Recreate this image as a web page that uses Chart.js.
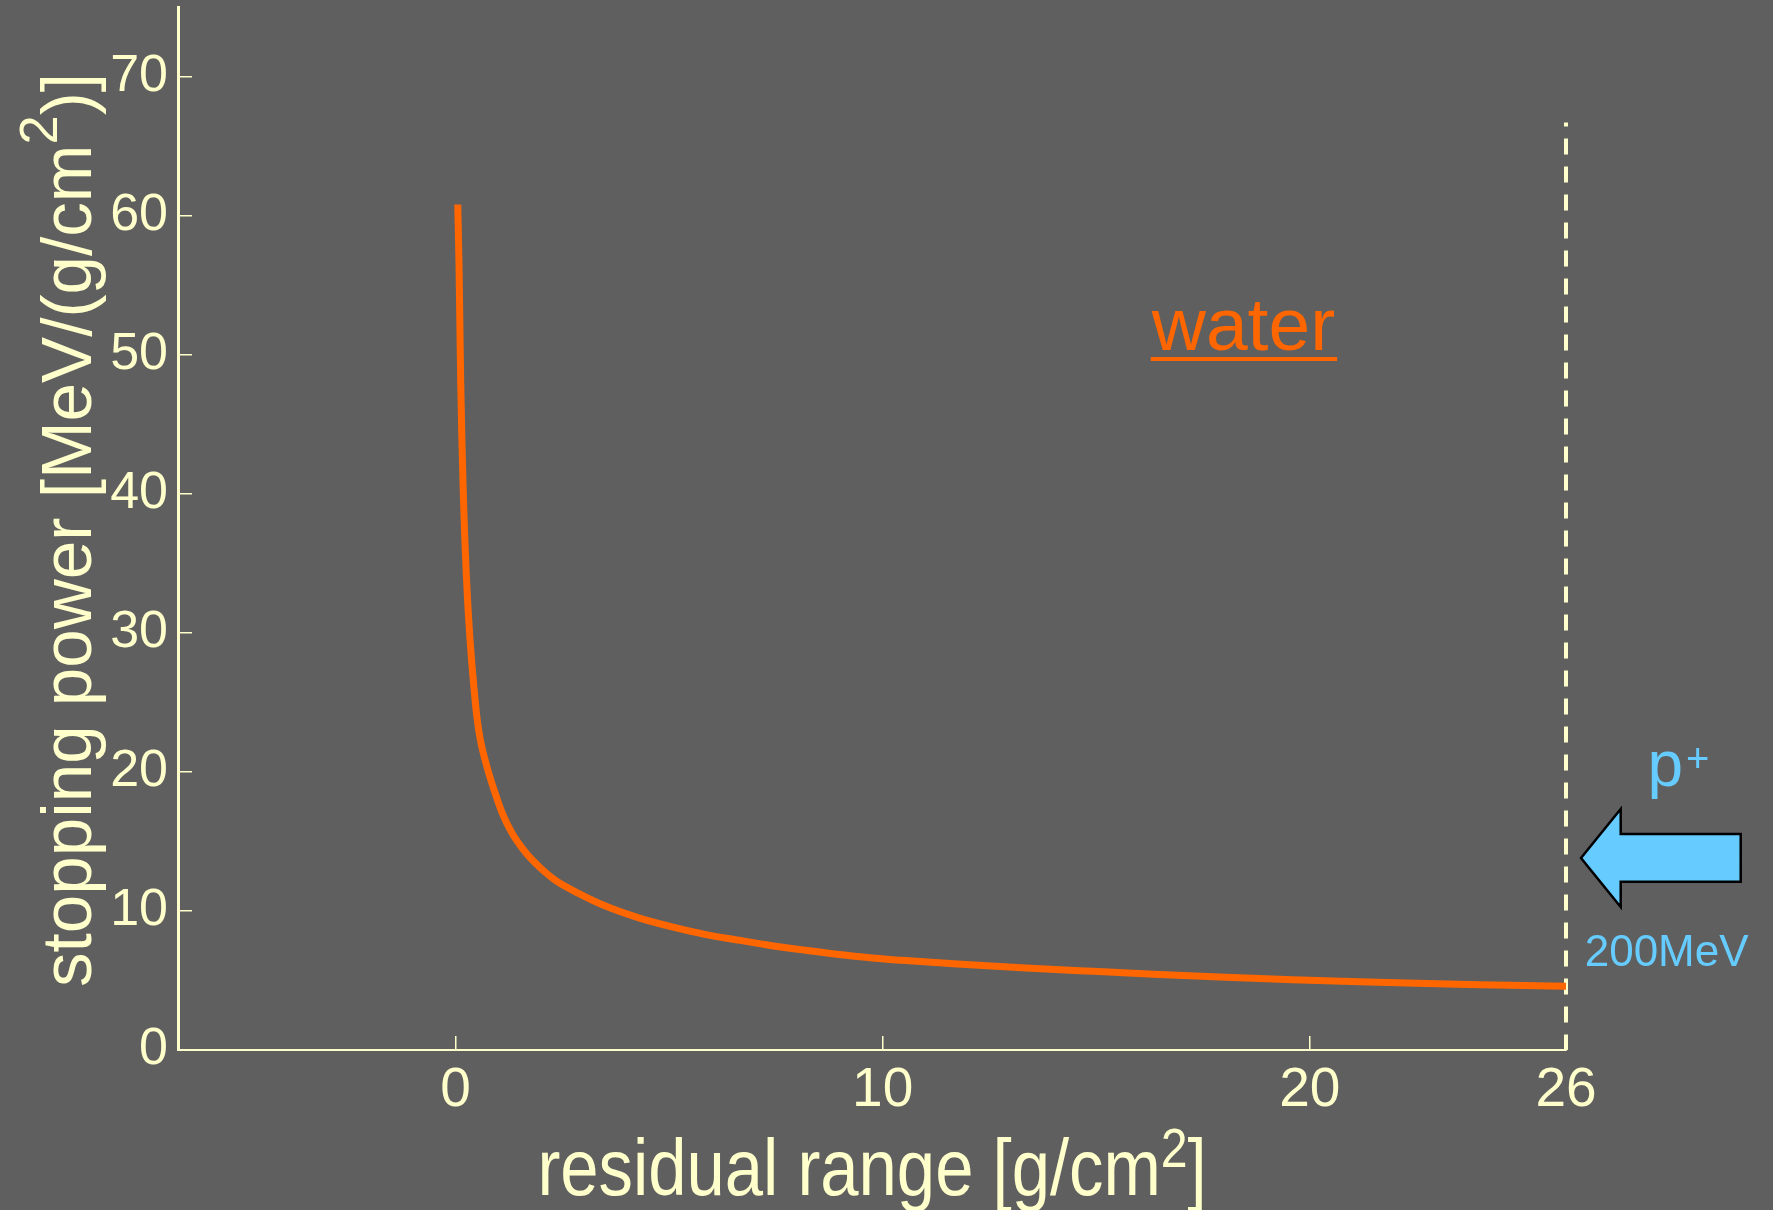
<!DOCTYPE html>
<html>
<head>
<meta charset="utf-8">
<script src="https://cdn.jsdelivr.net/npm/chart.js@4.4.1/dist/chart.umd.min.js"></script>
<style>
  html, body { margin: 0; padding: 0; background: #5f5f5f; }
  .chart-wrapper { width: 1773px; height: 1210px; }
</style>
</head>
<body>
<div class="chart-wrapper"><canvas id="chart"></canvas></div>
<script>
// proton stopping power in water against residual range
const residualRange = [
  0.05, 0.08, 0.10, 0.12, 0.145, 0.175, 0.21, 0.25, 0.29, 0.335,
  0.385, 0.44, 0.50, 0.58, 0.74, 0.9, 1.09, 1.32, 1.64, 1.95,
  2.34, 2.89, 3.51, 4.29, 5.07, 5.86, 6.63, 7.41, 8.2, 8.98,
  9.76, 10.54, 11.75, 13.35, 14.91, 16.47, 18.03, 19.6, 21.16, 22.72,
  24.0, 26.0
];
const stoppingPower = [
  60.8, 56.5, 52.2, 48.0, 44.2, 40.6, 37.2, 34.2, 31.8, 29.6,
  27.6, 25.7, 23.9, 22.3, 20.3, 18.7, 17.05, 15.6, 14.2, 13.2,
  12.2, 11.25, 10.35, 9.5, 8.85, 8.3, 7.9, 7.5, 7.17, 6.86,
  6.62, 6.43, 6.18, 5.9, 5.66, 5.43, 5.23, 5.06, 4.91, 4.78,
  4.69, 4.58
];

// dashed marker at the 200 MeV entry depth (drawn top to bottom)
const beamEdgeRange = [26, 26];
const beamEdgePower = [66.7, 0];

const xTicks = [0, 10, 20, 26];
const yTicks = [0, 10, 20, 30, 40, 50, 60, 70];

const CREAM = '#ffffcc';
const ORANGE = '#ff6600';
const SKY = '#66ccff';
const FONT = '"Liberation Sans", Arial, sans-serif';

function points(xs, ys) {
  return xs.map((x, i) => ({ x: x, y: ys[i] }));
}

// axis title with a superscript run, squeezed horizontally like the slide font
function drawTitle(ctx, parts, o) {
  ctx.save();
  ctx.translate(o.x, o.y);
  if (o.rotate) ctx.rotate(o.rotate);
  ctx.scale(o.squeeze, 1);
  ctx.fillStyle = o.color;
  ctx.textAlign = 'left';
  ctx.textBaseline = 'alphabetic';
  const fontFor = p => (p.sup ? o.supSize : o.size) + 'px ' + FONT;
  let total = 0;
  parts.forEach(p => { ctx.font = fontFor(p); total += ctx.measureText(p.t).width; });
  let x = -total / 2;
  parts.forEach(p => {
    ctx.font = fontFor(p);
    ctx.fillText(p.t, x, p.sup ? -o.supRise : 0);
    x += ctx.measureText(p.t).width;
  });
  ctx.restore();
}

const annotations = {
  id: 'annotations',
  afterDraw(chart) {
    const { ctx, chartArea, scales: { x, y } } = chart;

    drawTitle(ctx, [{ t: 'residual range [g/cm' }, { t: '2', sup: true }, { t: ']' }], {
      x: (chartArea.left + chartArea.right) / 2, y: 1195,
      size: 80, supSize: 56, supRise: 28, squeeze: 0.86, color: CREAM
    });
    drawTitle(ctx, [{ t: 'stopping power [MeV/(g/cm' }, { t: '2', sup: true }, { t: ')]' }], {
      x: 91, y: 530, rotate: -Math.PI / 2,
      size: 71, supSize: 54, supRise: 34, squeeze: 0.975, color: CREAM
    });

    // "water" label, underlined
    ctx.save();
    ctx.font = '75px ' + FONT;
    ctx.fillStyle = ORANGE;
    ctx.textBaseline = 'alphabetic';
    const wx = x.getPixelForValue(16.3);
    const wy = y.getPixelForValue(50.3);
    ctx.fillText('water', wx, wy);
    const ww = ctx.measureText('water').width;
    ctx.fillRect(wx - 1, wy + 6.5, ww + 3, 4);
    ctx.restore();

    // incoming proton arrow
    const tx = x.getPixelForValue(26) + 15;
    const ty = y.getPixelForValue(13.8);
    const arrow = [[0, 0], [39.7, -49], [39.7, -24], [159.7, -24], [159.7, 23.7], [39.7, 23.7], [39.7, 49]];
    ctx.save();
    ctx.beginPath();
    arrow.forEach(([dx, dy], i) => (i ? ctx.lineTo(tx + dx, ty + dy) : ctx.moveTo(tx + dx, ty + dy)));
    ctx.closePath();
    ctx.fillStyle = SKY;
    ctx.fill();
    ctx.lineWidth = 2.5;
    ctx.lineJoin = 'miter';
    ctx.strokeStyle = '#000000';
    ctx.stroke();

    ctx.fillStyle = SKY;
    ctx.textBaseline = 'alphabetic';
    ctx.font = '64px ' + FONT;
    ctx.fillText('p', tx + 66.5, ty - 72.5);
    ctx.font = '40px ' + FONT;
    ctx.fillText('+', tx + 105, ty - 86.5);
    ctx.font = '44px ' + FONT;
    ctx.fillText('200MeV', tx + 3.7, ty + 108.3);
    ctx.restore();
  }
};

new Chart(document.getElementById('chart'), {
  type: 'line',
  data: {
    datasets: [
      {
        label: 'water',
        data: points(residualRange, stoppingPower),
        borderColor: ORANGE,
        borderWidth: 7,
        borderCapStyle: 'butt',
        pointRadius: 0,
        cubicInterpolationMode: 'monotone',
        fill: false
      },
      {
        label: '200MeV',
        data: points(beamEdgeRange, beamEdgePower),
        borderColor: CREAM,
        borderWidth: 4,
        borderDash: [16, 12],
        borderDashOffset: 12,
        borderCapStyle: 'butt',
        pointRadius: 0,
        fill: false,
        clip: false
      }
    ]
  },
  options: {
    responsive: true,
    maintainAspectRatio: false,
    animation: false,
    layout: { padding: { top: 7, right: 207, left: 0, bottom: 0 } },
    plugins: { legend: { display: false }, tooltip: { enabled: false } },
    scales: {
      x: {
        type: 'linear',
        min: -6.5,
        max: 26,
        afterBuildTicks: s => { s.ticks = xTicks.map(v => ({ value: v })); },
        afterFit: s => { s.height = 160; s.paddingLeft = 0; s.paddingRight = 0; },
        border: { color: CREAM, width: 2 },
        grid: { drawOnChartArea: false, color: CREAM, lineWidth: 1.5, tickLength: -14 },
        ticks: {
          color: CREAM,
          font: { family: FONT, size: 55 },
          padding: 22,
          maxRotation: 0,
          autoSkip: false
        }
      },
      y: {
        type: 'linear',
        min: 0,
        max: 75,
        afterBuildTicks: s => { s.ticks = yTicks.map(v => ({ value: v })); },
        afterFit: s => { s.width = 178; s.paddingTop = 0; s.paddingBottom = 0; },
        border: { color: CREAM, width: 3 },
        grid: { drawOnChartArea: false, color: CREAM, lineWidth: 1.5, tickLength: -14 },
        ticks: {
          color: CREAM,
          font: { family: FONT, size: 52 },
          padding: 24,
          autoSkip: false
        }
      }
    }
  },
  plugins: [annotations]
});
</script>
</body>
</html>
